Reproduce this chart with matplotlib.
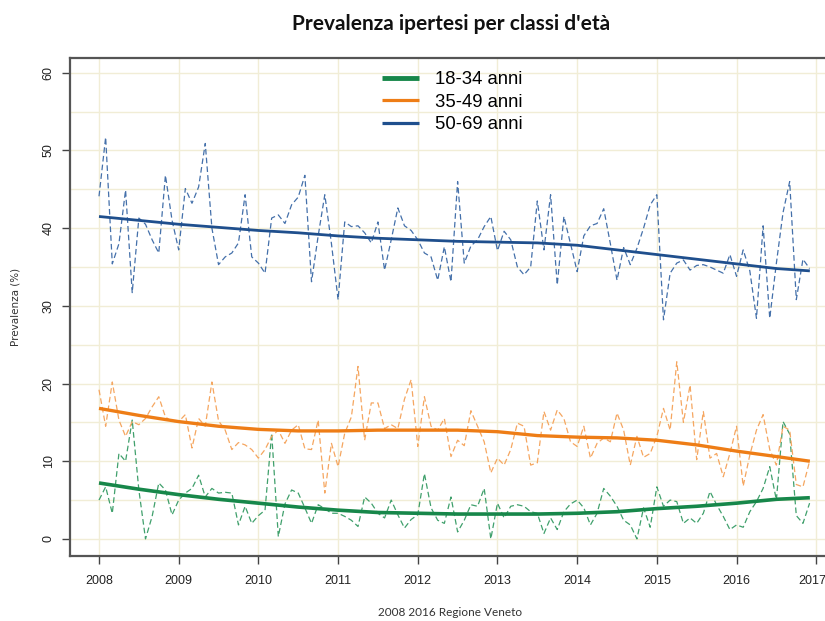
"""Prevalenza ipertesi per classi d'età — monthly series 2008-2016 with smoothed trend."""

import matplotlib
matplotlib.use("Agg")
import matplotlib.pyplot as plt
import matplotlib.transforms as mtrans
import numpy as np

# monthly prevalence (%), Jan 2008 .. Dec 2016
prev_18_34 = [
    5.0, 6.7, 3.3, 11.0, 10.0, 15.3, 6.3, 0.0, 2.9, 7.2, 6.3, 3.1,
    5.0, 5.9, 6.5, 8.2, 5.4, 6.5, 5.9, 6.0, 5.9, 1.8, 4.2, 2.0,
    3.0, 3.7, 13.6, 0.3, 4.5, 6.3, 5.9, 4.0, 2.0, 4.4, 3.9, 3.3,
    3.3, 2.9, 2.4, 1.6, 5.4, 4.6, 3.3, 2.7, 5.0, 3.1, 1.4, 2.5,
    3.1, 8.4, 4.0, 2.4, 2.0, 5.4, 0.9, 2.4, 4.4, 4.2, 6.5, 0.0,
    4.6, 2.7, 4.2, 4.4, 4.2, 3.5, 3.3, 0.7, 2.7, 1.2, 3.5, 4.5,
    5.0, 4.0, 1.8, 3.3, 6.5, 5.5, 4.2, 2.4, 1.8, 0.0, 4.0, 1.5,
    6.7, 4.2, 5.0, 4.8, 2.0, 2.7, 2.0, 3.3, 6.1, 4.4, 2.9, 1.2,
    1.8, 1.5, 3.5, 4.8, 6.5, 9.3, 5.0, 15.1, 13.5, 3.0, 2.0, 4.6,
]
prev_35_49 = [
    19.2, 14.5, 20.2, 15.3, 13.2, 15.1, 14.7, 15.5, 17.0, 18.3, 15.7, 15.1,
    15.1, 16.0, 11.7, 15.5, 14.5, 20.2, 15.2, 14.0, 11.5, 12.4, 12.1, 11.5,
    10.4, 11.5, 13.2, 14.0, 12.3, 14.0, 14.7, 11.6, 11.5, 15.3, 5.9, 12.3,
    9.3, 13.6, 15.7, 22.2, 12.7, 17.5, 17.5, 14.2, 14.7, 14.2, 18.0, 20.5,
    11.9, 18.3, 14.5, 14.0, 15.5, 10.6, 12.7, 12.0, 16.5, 14.5, 12.5, 8.5,
    10.4, 9.5, 11.5, 14.9, 14.5, 9.5, 9.8, 16.4, 14.0, 16.6, 15.5, 12.5,
    11.9, 14.5, 10.4, 12.3, 13.0, 12.5, 16.2, 14.0, 9.5, 13.2, 10.5, 11.0,
    13.2, 16.8, 14.0, 22.8, 15.0, 19.8, 10.2, 16.4, 10.4, 11.0, 8.0, 11.0,
    14.5, 6.8, 10.8, 14.0, 16.0, 11.5, 9.5, 14.5, 14.0, 7.0, 6.7, 10.0,
]
prev_50_69 = [
    44.1, 51.7, 35.4, 38.0, 44.9, 31.7, 41.3, 40.5, 38.5, 36.8, 46.8, 41.0,
    37.2, 45.1, 43.2, 45.3, 50.9, 40.0, 35.3, 36.3, 36.8, 38.1, 44.3, 36.3,
    35.5, 34.2, 41.3, 41.7, 40.6, 43.0, 44.0, 46.8, 33.1, 39.0, 44.3, 38.0,
    30.8, 40.8, 40.2, 40.3, 39.4, 38.1, 40.8, 34.6, 38.5, 42.6, 40.3, 39.7,
    38.5, 36.8, 36.3, 33.3, 37.6, 33.1, 46.0, 35.5, 37.7, 38.5, 40.2, 41.5,
    37.1, 39.6, 38.5, 35.0, 34.0, 35.0, 43.5, 37.2, 44.3, 32.7, 41.5, 38.0,
    34.4, 39.0, 40.3, 40.6, 42.5, 38.0, 33.3, 37.5, 35.3, 37.4, 40.0, 43.0,
    44.3, 28.2, 34.2, 35.5, 35.9, 34.6, 35.2, 35.3, 35.0, 34.6, 34.2, 36.6,
    33.8, 37.2, 34.5, 28.4, 40.3, 28.4, 35.5, 42.0, 46.0, 30.8, 36.0, 34.8,
]

# smoothed trend, read every half year
trend_x = [2008.0, 2008.5, 2009.0, 2009.5, 2010.0, 2010.5, 2011.0, 2011.5, 2012.0, 2012.5,
           2013.0, 2013.5, 2014.0, 2014.5, 2015.0, 2015.5, 2016.0, 2016.5, 2016.92]
trend_18_34 = [7.2, 6.4, 5.7, 5.1, 4.6, 4.1, 3.7, 3.4, 3.3, 3.2,
               3.2, 3.2, 3.3, 3.5, 3.9, 4.2, 4.6, 5.1, 5.3]
trend_35_49 = [16.8, 15.9, 15.1, 14.5, 14.1, 13.9, 13.9, 14.0, 14.0, 14.0,
               13.8, 13.3, 13.1, 13.0, 12.7, 12.1, 11.3, 10.6, 10.0]
trend_50_69 = [41.5, 41.0, 40.5, 40.1, 39.7, 39.4, 39.0, 38.7, 38.5, 38.3,
               38.2, 38.1, 37.8, 37.2, 36.6, 36.0, 35.4, 34.8, 34.5]

labels = ["18-34 anni", "35-49 anni", "50-69 anni"]
years = list(range(2008, 2018))

GREEN = "#17874a"
ORANGE = "#ee7d16"
BLUE = "#1f4f8d"
GRID = "#f1edd6"

months = 2008 + np.arange(len(prev_50_69)) / 12

fig = plt.figure(figsize=(8.25, 6.21), dpi=100)
ax = fig.add_axes([70 / 825, 65 / 621, 755 / 825, 498 / 621])

series = [
    (prev_18_34, trend_18_34, GREEN, "#40a06c", 2.6),
    (prev_35_49, trend_35_49, ORANGE, "#f5a660", 2.4),
    (prev_50_69, trend_50_69, BLUE, "#4470aa", 2.0),
]
handles = []
for (vals, trend, c, c_light, lw), lab in zip(series, labels):
    ax.plot(months, vals, color=c_light, linewidth=0.9, linestyle=(0, (4.5, 2.5)))
    h, = ax.plot(trend_x, trend, color=c, linewidth=lw, label=lab,
                 solid_capstyle="butt")
    handles.append(h)

ax.set_xlim(2007.636, 2017.11)
ax.set_ylim(-2.2, 61.9)
ax.set_xticks(years)
ax.set_yticks(range(0, 61, 10))
ax.set_yticks(range(0, 61, 5), minor=True)
ax.grid(True, which="both", color=GRID, linewidth=1.0)
ax.set_axisbelow(True)
ax.tick_params(which="minor", length=0)
ax.tick_params(which="major", direction="out", length=6, width=1.0, color="#444444",
               labelsize=9, labelcolor="#222222")
ax.tick_params(axis="x", pad=8)
ax.tick_params(axis="y", pad=5)
for lab in ax.get_xticklabels() + ax.get_yticklabels():
    lab.set_family("Liberation Sans")
    lab.set_fontsize(9)
for lab in ax.get_yticklabels():
    lab.set_rotation(90)
    lab.set_va("center")
# last year label sits on the right edge, nudge it in a touch
last = ax.get_xticklabels()[-1]
last.set_transform(last.get_transform() + mtrans.ScaledTranslation(-4 / 100, 0, fig.dpi_scale_trans))
for s in ["left", "bottom", "top"]:
    ax.spines[s].set_color("#555555")
    ax.spines[s].set_linewidth(1.6)
ax.spines["right"].set_visible(False)

ax.set_ylabel("Prevalenza (%)", fontsize=7.5, color="#333333", labelpad=16)
fig.text(450 / 825, 1 - 613 / 621, "2008 2016 Regione Veneto", ha="center", va="center",
         fontsize=8.5, family="Lato", color="#333333")

leg = ax.legend(handles=handles, loc="upper left", bbox_to_anchor=(0.401, 0.992),
                frameon=False, handlelength=2.0, handletextpad=0.85,
                labelspacing=0.3, borderpad=0,
                prop={"family": "Liberation Sans", "size": 13.3})
leg.get_lines()[0].set_linewidth(3.5)
leg.get_lines()[1].set_linewidth(2.3)
leg.get_lines()[2].set_linewidth(2.3)

fig.text(0.547, 0.962, "Prevalenza ipertesi per classi d'età", ha="center", va="center",
         fontsize=15, fontweight="bold", family="Lato", color="#111111")

fig.savefig("out.png", dpi=100)
